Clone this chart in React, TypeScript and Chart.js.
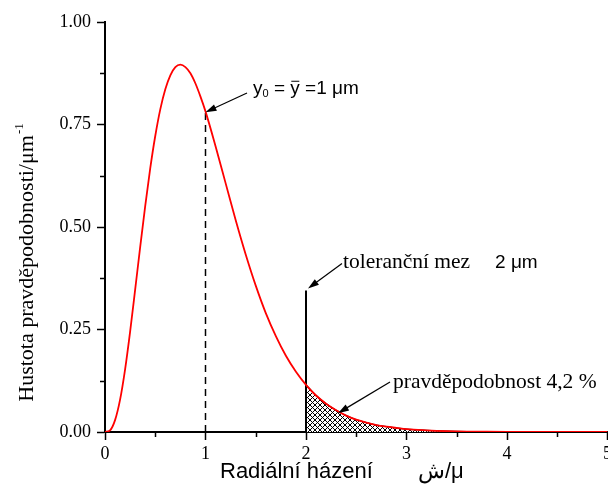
import { useEffect, useRef } from 'react';
import { Chart, registerables } from 'chart.js';

Chart.register(...registerables);

// Probability density (x in μm, y in μm⁻¹)
const CURVE_X = [0, 0.05, 0.1, 0.15, 0.2, 0.25, 0.3, 0.35, 0.4, 0.45, 0.5, 0.55, 0.6, 0.65, 0.7, 0.75, 0.8, 0.85, 0.9, 0.95, 1.0, 1.1, 1.2, 1.3, 1.4, 1.5, 1.6, 1.7, 1.8, 1.9, 2.0, 2.1, 2.2, 2.3, 2.4, 2.5, 2.6, 2.7, 2.8, 2.9, 3.0, 3.2, 3.4, 3.6, 3.8, 4.0, 4.5, 5.0];
const CURVE_Y = [0, 0.004, 0.029, 0.079, 0.153, 0.245, 0.347, 0.451, 0.551, 0.643, 0.722, 0.787, 0.836, 0.870, 0.890, 0.896, 0.890, 0.875, 0.850, 0.818, 0.782, 0.697, 0.607, 0.517, 0.433, 0.357, 0.290, 0.234, 0.186, 0.147, 0.115, 0.089, 0.069, 0.053, 0.040, 0.030, 0.023, 0.017, 0.013, 0.010, 0.007, 0.004, 0.002, 0.001, 0.0006, 0.0003, 0.00005, 0];

const MEAN_X = 1;
const MEAN_Y = 0.782;
const LIMIT_X = 2;
const LIMIT_TOP = 0.345;

const X_MIN = 0;
const X_MAX = 5;
const X_STEP = 0.5;
const Y_MIN = 0;
const Y_MAX = 1;
const Y_STEP = 0.125;

const X_TITLE = 'Radiální házení';
const X_TITLE_UNIT = 'ش/μ';
const Y_TITLE = 'Hustota pravděpodobnosti/μm';
const Y_TITLE_SUP = '-1';

// annotation texts and anchor points (data units)
const SERIF_LABELS = ['toleranční mez', 'pravděpodobnost 4,2 %'];
const SERIF_LABEL_POS = [[2.368, 0.401], [2.866, 0.107]];
const SANS_LABELS = ['2 μm'];
const SANS_LABEL_POS = [[3.881, 0.401]];
const MEAN_LABEL_POS = [1.473, 0.825];
// arrows: [tailX, tailY, headX, headY]
const ARROWS = [
  [1.413, 0.827, 1.0, 0.78],
  [2.358, 0.411, 2.02, 0.35],
  [2.836, 0.122, 2.318, 0.046],
];

const SERIF = '"Liberation Serif", "Times New Roman", serif';
const SANS = '"Liberation Sans", Arial, sans-serif';

function makeHatch(): CanvasPattern | string {
  const s = 5;
  const c = document.createElement('canvas');
  c.width = s;
  c.height = s;
  const g = c.getContext('2d');
  if (!g) return '#000';
  g.fillStyle = '#fff';
  g.fillRect(0, 0, s, s);
  g.strokeStyle = '#000';
  g.lineWidth = 1;
  g.beginPath();
  g.moveTo(0, 0);
  g.lineTo(s, s);
  g.moveTo(0, s);
  g.lineTo(s, 0);
  g.stroke();
  const p = g.createPattern(c, 'repeat');
  return p || '#000';
}

function drawArrow(ctx: CanvasRenderingContext2D, x1: number, y1: number, x2: number, y2: number) {
  const ang = Math.atan2(y2 - y1, x2 - x1);
  const len = 11;
  const half = 3.5;
  ctx.strokeStyle = '#000';
  ctx.fillStyle = '#000';
  ctx.lineWidth = 1.2;
  ctx.beginPath();
  ctx.moveTo(x1, y1);
  ctx.lineTo(x2 - Math.cos(ang) * len * 0.8, y2 - Math.sin(ang) * len * 0.8);
  ctx.stroke();
  ctx.beginPath();
  ctx.moveTo(x2, y2);
  ctx.lineTo(x2 - Math.cos(ang) * len - Math.sin(ang) * half, y2 - Math.sin(ang) * len + Math.cos(ang) * half);
  ctx.lineTo(x2 - Math.cos(ang) * len + Math.sin(ang) * half, y2 - Math.sin(ang) * len - Math.cos(ang) * half);
  ctx.closePath();
  ctx.fill();
}

const overlay = {
  id: 'overlay',
  afterDraw(chart: any) {
    const { ctx, chartArea } = chart;
    const xs = chart.scales.x;
    const ys = chart.scales.y;
    const px = (v: number) => xs.getPixelForValue(v);
    const py = (v: number) => ys.getPixelForValue(v);
    ctx.save();

    // minor ticks
    ctx.strokeStyle = '#000';
    ctx.lineWidth = 1.5;
    ctx.beginPath();
    for (let v = X_MIN + X_STEP; v < X_MAX; v += 2 * X_STEP) {
      const x = Math.round(px(v)) + 0.5;
      ctx.moveTo(x, chartArea.bottom);
      ctx.lineTo(x, chartArea.bottom + 5);
    }
    for (let v = Y_MIN + Y_STEP; v < Y_MAX; v += 2 * Y_STEP) {
      const y = Math.round(py(v)) + 0.5;
      ctx.moveTo(chartArea.left, y);
      ctx.lineTo(chartArea.left - 5, y);
    }
    ctx.stroke();

    // arrows
    ARROWS.forEach(([a, b, c, d]) => drawArrow(ctx, px(a), py(b), px(c), py(d)));

    // labels
    ctx.fillStyle = '#000';
    ctx.textBaseline = 'alphabetic';
    ctx.textAlign = 'left';
    ctx.font = `21.5px ${SERIF}`;
    SERIF_LABELS.forEach((t, i) => ctx.fillText(t, px(SERIF_LABEL_POS[i][0]), py(SERIF_LABEL_POS[i][1])));
    ctx.font = `19px ${SANS}`;
    SANS_LABELS.forEach((t, i) => ctx.fillText(t, px(SANS_LABEL_POS[i][0]), py(SANS_LABEL_POS[i][1])));

    // y0 = ȳ = 1 μm
    let cx = px(MEAN_LABEL_POS[0]);
    const by = py(MEAN_LABEL_POS[1]);
    const big = `19px ${SANS}`;
    const small = `11px ${SANS}`;
    const run = (t: string, f: string, dy = 0) => {
      ctx.font = f;
      ctx.fillText(t, cx, by + dy);
      const w = ctx.measureText(t).width;
      cx += w;
      return w;
    };
    run('y', big);
    run('0', small, 3);
    run(' = ', big);
    const yStart = cx;
    const wy = run('y', big);
    ctx.lineWidth = 1;
    ctx.beginPath();
    ctx.moveTo(yStart + 1, by - 12.5);
    ctx.lineTo(yStart + wy - 0.5, by - 12.5);
    ctx.stroke();
    run(' =1 μm', big);

    // x axis title
    ctx.font = `22px ${SANS}`;
    ctx.fillText(X_TITLE, chartArea.left + 115, chartArea.bottom + 46);
    ctx.fillText(X_TITLE_UNIT, chartArea.left + 313, chartArea.bottom + 46);

    // y axis title (rotated)
    ctx.translate(chartArea.left - 72, 0);
    ctx.rotate(-Math.PI / 2);
    ctx.font = `22px ${SERIF}`;
    const wm = ctx.measureText(Y_TITLE).width;
    ctx.font = `13px ${SERIF}`;
    const ws = ctx.measureText(Y_TITLE_SUP).width;
    const start = -(263 + (wm + ws) / 2);
    ctx.font = `22px ${SERIF}`;
    ctx.fillText(Y_TITLE, start, 0);
    ctx.font = `13px ${SERIF}`;
    ctx.fillText(Y_TITLE_SUP, start + wm + 1, -10);

    ctx.restore();
  },
};

export default function App() {
  const ref = useRef<HTMLCanvasElement | null>(null);

  useEffect(() => {
    if (!ref.current) return;
    const curve = CURVE_X.map((x, i) => ({ x, y: CURVE_Y[i] }));
    const tail = curve.filter((p) => p.x >= LIMIT_X);
    const isMajorX = (v: number) => Math.abs(v - Math.round(v)) < 1e-6;
    const isMajorY = (v: number) => Math.abs(v * 4 - Math.round(v * 4)) < 1e-6;

    const chart = new Chart(ref.current, {
      type: 'line',
      data: {
        datasets: [
          {
            data: curve,
            borderColor: '#ff0000',
            borderWidth: 1.8,
            pointRadius: 0,
            cubicInterpolationMode: 'monotone',
            fill: false,
          },
          {
            data: [{ x: LIMIT_X, y: 0 }, { x: LIMIT_X, y: LIMIT_TOP }],
            borderColor: '#000',
            borderWidth: 2,
            pointRadius: 0,
            fill: false,
          },
          {
            data: [{ x: MEAN_X, y: 0 }, { x: MEAN_X, y: MEAN_Y }],
            borderColor: '#000',
            borderWidth: 1.5,
            borderDash: [7, 5],
            pointRadius: 0,
            fill: false,
          },
          {
            data: tail,
            borderColor: '#400000',
            borderWidth: 1.2,
            pointRadius: 0,
            cubicInterpolationMode: 'monotone',
            fill: 'origin',
            backgroundColor: makeHatch() as any,
          },
        ],
      },
      options: {
        animation: false,
        responsive: false,
        devicePixelRatio: 1,
        layout: { padding: { left: 0, top: 22, right: 32.5, bottom: 0 } },
        plugins: { legend: { display: false }, tooltip: { enabled: false } },
        scales: {
          x: {
            type: 'linear',
            min: X_MIN,
            max: X_MAX,
            afterFit: (s: any) => {
              s.height = 59;
            },
            ticks: {
              stepSize: X_STEP,
              autoSkip: false,
              maxRotation: 0,
              padding: 3,
              color: '#000',
              font: { family: SERIF, size: 18 },
              callback: (v: any) => (isMajorX(Number(v)) ? String(Math.round(Number(v))) : ''),
            },
            grid: {
              drawOnChartArea: false,
              drawTicks: true,
              tickLength: 8,
              tickWidth: 1.5,
              tickColor: (c: any) => (c.tick && isMajorX(c.tick.value) ? '#000' : 'rgba(0,0,0,0)'),
            },
            border: { display: true, color: '#000', width: 2 },
          },
          y: {
            type: 'linear',
            min: Y_MIN,
            max: Y_MAX,
            afterFit: (s: any) => {
              s.width = 105;
            },
            ticks: {
              stepSize: Y_STEP,
              autoSkip: false,
              padding: 6,
              color: '#000',
              font: { family: SERIF, size: 18 },
              callback: (v: any) => (isMajorY(Number(v)) ? Number(v).toFixed(2) : ''),
            },
            grid: {
              drawOnChartArea: false,
              drawTicks: true,
              tickLength: 8,
              tickWidth: 1.5,
              tickColor: (c: any) => (c.tick && isMajorY(c.tick.value) ? '#000' : 'rgba(0,0,0,0)'),
            },
            border: { display: true, color: '#000', width: 2 },
          },
        },
      },
      plugins: [overlay],
    });
    return () => chart.destroy();
  }, []);

  return (
    <div style={{ position: 'absolute', left: 0, top: 0, width: 608, height: 491, overflow: 'hidden', background: '#fff' }}>
      <canvas ref={ref} width={640} height={491} style={{ display: 'block' }} />
    </div>
  );
}
